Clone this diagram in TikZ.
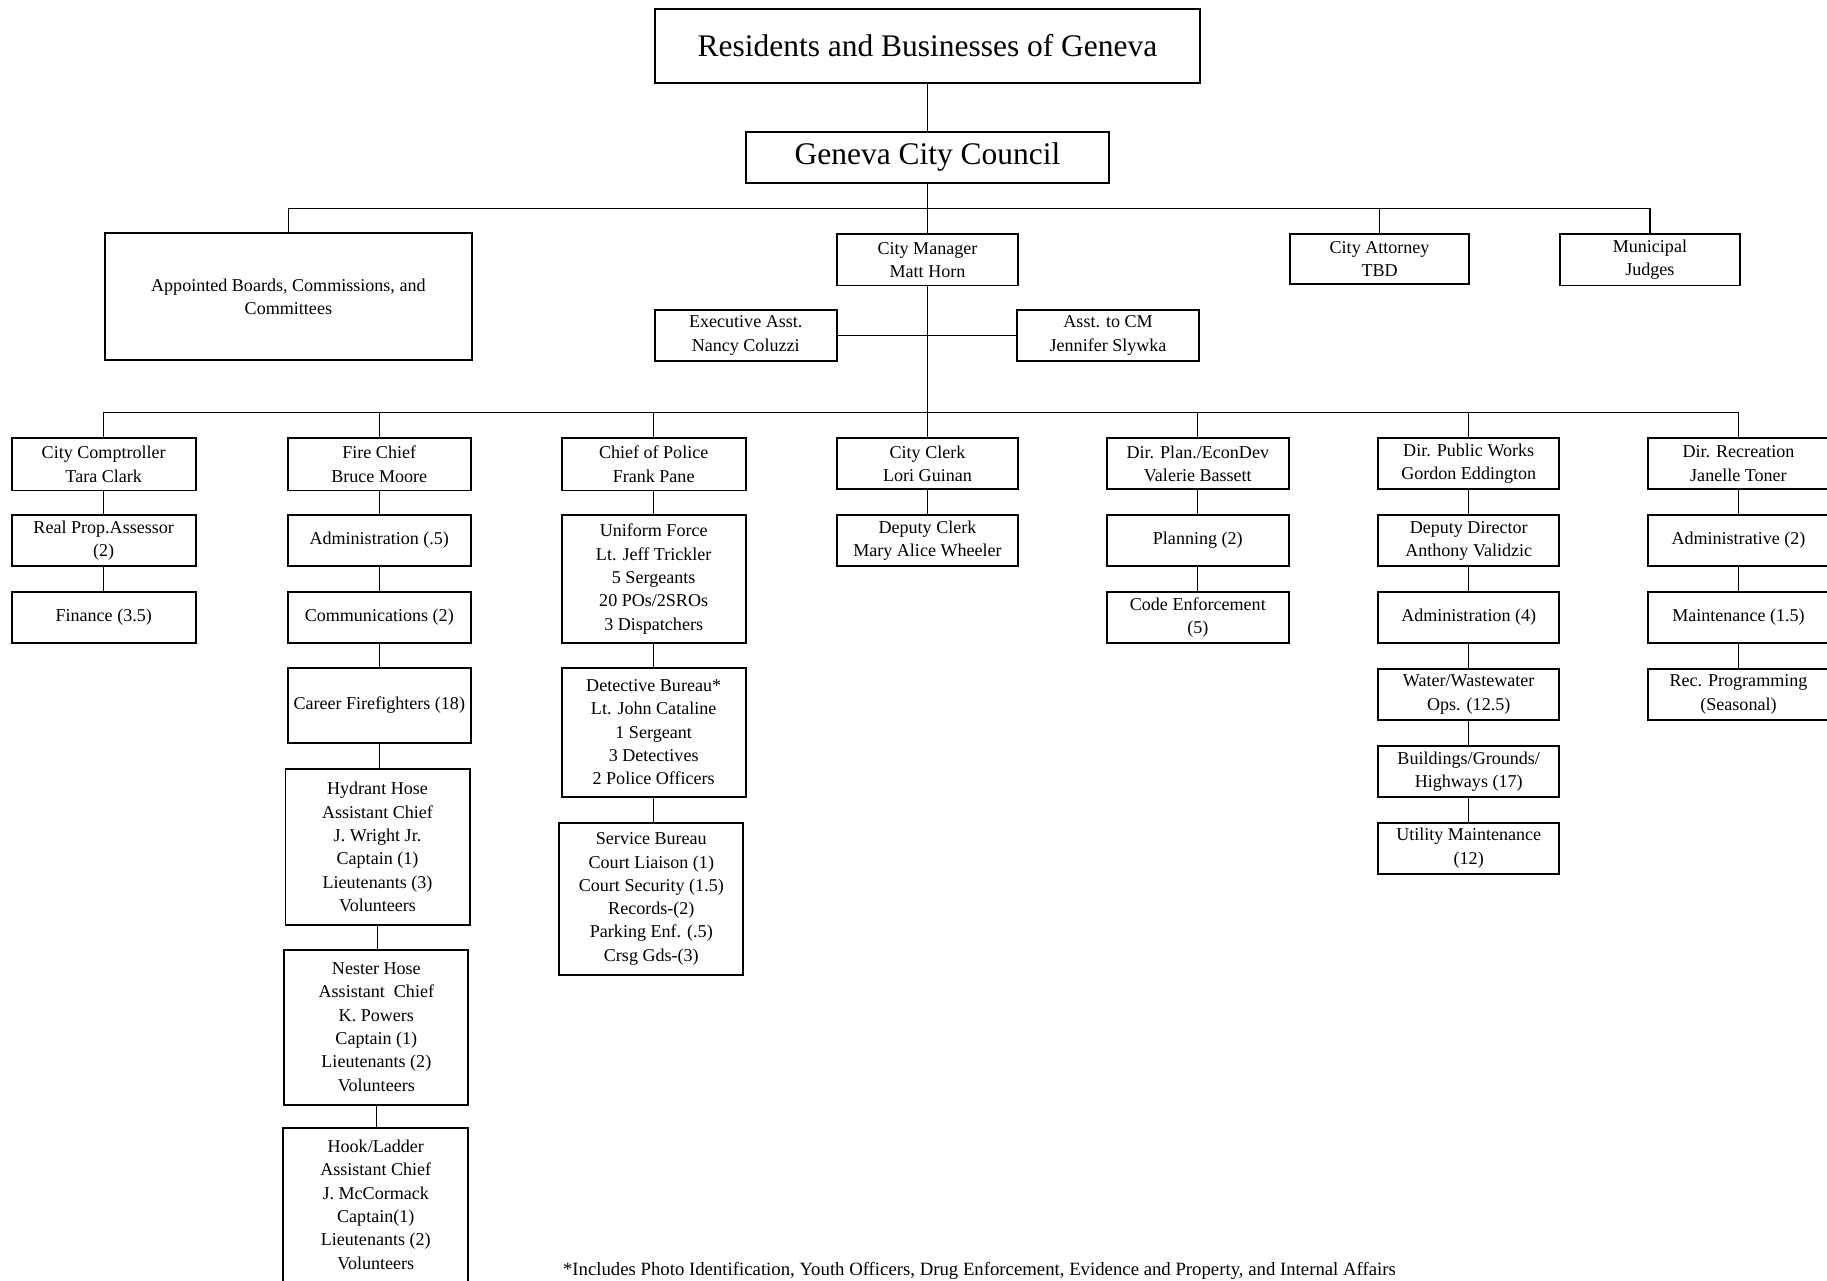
\documentclass[tikz,border=0pt]{standalone}
\usepackage{fontspec}
\setmainfont{Liberation Serif}
\begin{document}
\begin{tikzpicture}[x=1pt,y=-1pt,
  box/.style={draw, line width=1.6pt, align=center, inner sep=1pt,
    font=\fontsize{15.5}{20}\selectfont},
  big/.style={box, font=\fontsize{27}{32}\selectfont},
  conn/.style={line width=1.3pt},
  thin/.style={line width=1pt}]
\useasboundingbox (0,0) rectangle (1568,1099);
\fill[white] (0,0) rectangle (1568,1099);

% top levels
\node[big, minimum width=468pt, minimum height=63pt] (res) at (796,39.5) {Residents and Businesses of Geneva};
\node[big, minimum width=311pt, minimum height=44pt] (council) at (796,135) {Geneva City Council};

\node[box, minimum width=315pt, minimum height=109pt] (appt) at (247.5,254.5) {Appointed Boards, Commissions, and\\Committees};
\node[box, minimum width=155pt, minimum height=44pt] (mgr) at (796,223) {City Manager\\Matt Horn};
\node[box, minimum width=154pt, minimum height=43pt] (att) at (1184,222.5) {City Attorney\\TBD};
\node[box, minimum width=154pt, minimum height=44pt] (jud) at (1416,223) {Municipal\\Judges};

\node[box, minimum width=156pt, minimum height=44pt] (exec) at (640,288) {Executive Asst.\\Nancy Coluzzi};
\node[box, minimum width=156pt, minimum height=44pt] (asst) at (951,288) {Asst. to CM\\Jennifer Slywka};

% department heads
\node[box, minimum width=158pt, minimum height=45pt] (comp) at (89,398.5) {City Comptroller\\Tara Clark};
\node[box, minimum width=157pt, minimum height=45pt] (fire) at (325.5,398.5) {Fire Chief\\Bruce Moore};
\node[box, minimum width=158pt, minimum height=45pt] (pol) at (561,398.5) {Chief of Police\\Frank Pane};
\node[box, minimum width=155pt, minimum height=44pt] (clerk) at (796,398) {City Clerk\\Lori Guinan};
\node[box, minimum width=156pt, minimum height=44pt] (plan) at (1028,398) {Dir. Plan./EconDev\\Valerie Bassett};
\node[box, minimum width=155pt, minimum height=44pt] (pw) at (1260.5,398) {Dir. Public Works\\Gordon Eddington};
\node[box, minimum width=156pt, minimum height=44pt] (rec) at (1492,398) {Dir. Recreation\\Janelle Toner};

% comptroller column
\node[box, minimum width=158pt, minimum height=44pt] (rpa) at (89,464) {Real Prop.Assessor\\(2)};
\node[box, minimum width=158pt, minimum height=44pt] (fin) at (89,530) {Finance (3.5)};

% fire column
\node[box, minimum width=157pt, minimum height=44pt] (fadm) at (325.5,464) {Administration (.5)};
\node[box, minimum width=157pt, minimum height=44pt] (fcom) at (325.5,530) {Communications (2)};
\node[box, minimum width=157pt, minimum height=65pt] (fcar) at (325.5,605.5) {Career Firefighters (18)};
\node[box, minimum width=158pt, minimum height=134pt] (hyd) at (324,727) {Hydrant Hose\\Assistant Chief\\J. Wright Jr.\\Captain (1)\\Lieutenants (3)\\Volunteers};
\node[box, minimum width=158pt, minimum height=133pt] (nes) at (323,881.5) {Nester Hose\\Assistant\ \ Chief\\K. Powers\\Captain (1)\\Lieutenants (2)\\Volunteers};
\node[box, minimum width=159pt, minimum height=132pt] (hook) at (322.5,1034) {Hook/Ladder\\Assistant Chief\\J. McCormack\\Captain(1)\\Lieutenants (2)\\Volunteers};

% police column
\node[box, minimum width=158pt, minimum height=110pt] (uni) at (561,497) {Uniform Force\\Lt. Jeff Trickler\\5 Sergeants\\20 POs/2SROs\\3 Dispatchers};
\node[box, minimum width=158pt, minimum height=111pt] (det) at (561,628.5) {Detective Bureau*\\Lt. John Cataline\\1 Sergeant\\3 Detectives\\2 Police Officers};
\node[box, minimum width=158pt, minimum height=131pt] (serv) at (559,771.5) {Service Bureau\\Court Liaison (1)\\Court Security (1.5)\\Records-(2)\\Parking Enf. (.5)\\Crsg Gds-(3)};

% clerk column
\node[box, minimum width=155pt, minimum height=44pt] (dclk) at (796,464) {Deputy Clerk\\Mary Alice Wheeler};

% planning column
\node[box, minimum width=156pt, minimum height=44pt] (plng) at (1028,464) {Planning (2)};
\node[box, minimum width=156pt, minimum height=44pt] (code) at (1028,530) {Code Enforcement\\(5)};

% public works column
\node[box, minimum width=155pt, minimum height=44pt] (dpw) at (1260.5,464) {Deputy Director\\Anthony Validzic};
\node[box, minimum width=155pt, minimum height=44pt] (padm) at (1260.5,530) {Administration (4)};
\node[box, minimum width=155pt, minimum height=44pt] (wat) at (1260.5,596) {Water/Wastewater\\Ops. (12.5)};
\node[box, minimum width=155pt, minimum height=44pt] (bld) at (1260.5,662) {Buildings/Grounds/\\Highways (17)};
\node[box, minimum width=155pt, minimum height=44pt] (util) at (1260.5,728) {Utility Maintenance\\(12)};

% recreation column
\node[box, minimum width=156pt, minimum height=44pt] (radm) at (1492,464) {Administrative (2)};
\node[box, minimum width=156pt, minimum height=44pt] (rmnt) at (1492,530) {Maintenance (1.5)};
\node[box, minimum width=156pt, minimum height=44pt] (rprg) at (1492,596) {Rec. Programming\\(Seasonal)};

% footnote
\node[font=\fontsize{16.1}{20}\selectfont, anchor=west, inner sep=0pt] (foot) at (483,1091) {*Includes Photo Identification, Youth Officers, Drug Enforcement, Evidence and Property, and Internal Affairs};

% connectors
\coordinate (bus1) at (796,179);
\coordinate (bus2) at (796,354);
\draw[thin] (res.south) -- (council.north);
\draw[conn] (appt.north) |- (jud.north |- bus1) -- (jud.north);
\draw[thin] (council.south) -- (mgr.north);
\draw[thin] (att.north) -- (att.north |- bus1);
\draw[conn] (exec.east) -- (asst.west);
\draw[thin] (mgr.south) -- (clerk.north);
\draw[conn] (comp.north) |- (rec.north |- bus2) -- (rec.north);
\draw[thin] (fire.north) -- (fire.north |- bus2);
\draw[thin] (pol.north) -- (pol.north |- bus2);
\draw[thin] (plan.north) -- (plan.north |- bus2);
\draw[thin] (pw.north) -- (pw.north |- bus2);

\draw[conn] (comp.south) -- (rpa.north);
\draw[conn] (rpa.south) -- (fin.north);

\draw[thin] (fire.south) -- (fadm.north);
\draw[thin] (fadm.south) -- (fcom.north);
\draw[thin] (fcom.south) -- (fcar.north);
\draw[conn] (fcar.south) -- (fcar.south |- hyd.north);
\draw[conn] (hyd.south) -- (hyd.south |- nes.north);
\draw[conn] (nes.south) -- (nes.south |- hook.north);

\draw[conn] (pol.south) -- (uni.north);
\draw[conn] (uni.south) -- (det.north);
\draw[conn] (det.south) -- (det.south |- serv.north);

\draw[thin] (clerk.south) -- (dclk.north);

\draw[thin] (plan.south) -- (plng.north);
\draw[thin] (plng.south) -- (code.north);

\draw[conn] (pw.south) -- (dpw.north);
\draw[conn] (dpw.south) -- (padm.north);
\draw[conn] (padm.south) -- (wat.north);
\draw[conn] (wat.south) -- (bld.north);
\draw[conn] (bld.south) -- (util.north);

\draw[conn] (rec.south) -- (radm.north);
\draw[conn] (radm.south) -- (rmnt.north);
\draw[conn] (rmnt.south) -- (rprg.north);
\end{tikzpicture}
\end{document}
